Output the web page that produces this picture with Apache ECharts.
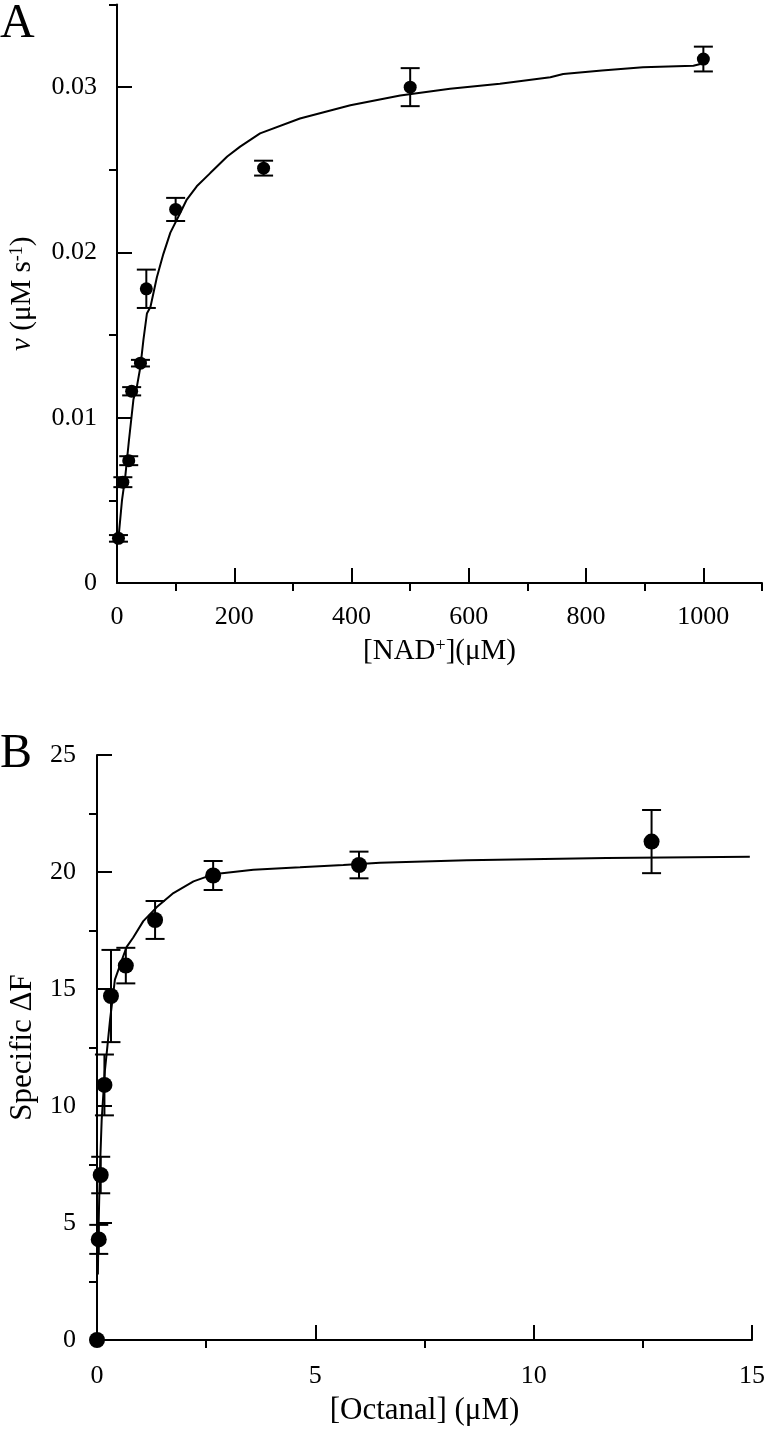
<!DOCTYPE html>
<html>
<head>
<meta charset="utf-8">
<script src="https://cdn.jsdelivr.net/npm/echarts@6/dist/echarts.min.js"></script>
<style>
html,body{margin:0;padding:0;background:#fff;}
#chart{width:765px;height:1431px;}
</style>
</head>
<body>
<div id="chart"></div>
<script>
// ---------- Panel A data ----------
const nadConc = [2.5, 10, 20, 25, 40, 50, 100, 250, 500, 1000];
const nadRate = [0.0027, 0.0061, 0.0074, 0.0116, 0.0133, 0.0178, 0.0226, 0.0251, 0.0300, 0.0317];
const nadErr  = [0.0002, 0.0003, 0.00027, 0.00025, 0.0002, 0.00116, 0.0007, 0.00045, 0.00115, 0.00075];
const nadFitX = [3, 8.5, 14, 20, 28, 34, 40, 45, 51, 57, 68, 79, 91, 108, 119, 136, 159, 188, 210, 244, 312, 398, 483, 568, 653, 739, 761, 827, 897, 983, 995];
const nadFitY = [0.0029, 0.0050, 0.0064, 0.0085, 0.0111, 0.0119, 0.0131, 0.0147, 0.0163, 0.0167, 0.0185, 0.0199, 0.0212, 0.0224, 0.0232, 0.0240, 0.0248, 0.0258, 0.0264, 0.0272, 0.0281, 0.0289, 0.0295, 0.0299, 0.0302, 0.0306, 0.0308, 0.0310, 0.0312, 0.0313, 0.0314];
const aXMajor = [0, 200, 400, 600, 800, 1000];
const aXMinor = [100, 300, 500, 700, 900, 1100];
const aYLabels = [0, 0.01, 0.02, 0.03];
const aYMajor = [0, 0.01, 0.02, 0.03];
const aYMinor = [0.005, 0.015, 0.025, 0.035];

// ---------- Panel B data ----------
const octConc = [0, 0.04, 0.085, 0.17, 0.32, 0.66, 1.33, 2.66, 6.0, 12.7];
const octDF   = [0, 4.3, 7.05, 10.9, 14.7, 16.0, 17.95, 19.85, 20.3, 21.3];
const octErr  = [0, 0.62, 0.78, 1.3, 1.97, 0.76, 0.81, 0.62, 0.57, 1.35];
const octFitX = [0.02, 0.03, 0.05, 0.075, 0.107, 0.18, 0.23, 0.30, 0.41, 0.60, 0.68, 0.83, 1.06, 1.37, 1.75, 2.21, 2.66, 3.12, 3.58, 4.65, 5.64, 6.48, 8.47, 11.67, 14.95];
const octFitY = [2.8, 4.27, 5.98, 7.69, 9.4, 11.5, 12.4, 13.7, 15.4, 16.4, 16.8, 17.2, 17.9, 18.5, 19.1, 19.6, 19.9, 20.0, 20.1, 20.2, 20.3, 20.4, 20.5, 20.6, 20.65];
const bXMajor = [0, 5, 10, 15];
const bXMinor = [2.5, 7.5, 12.5];
const bYMajor = [0, 5, 10, 15, 20, 25];
const bYMinor = [2.5, 7.5, 12.5, 17.5, 22.5];

const FONT = 'Liberation Serif';
const zip3 = (a, b, c) => a.map((v, i) => [v, b[i], c[i]]);
const zip2 = (a, b) => a.map((v, i) => [v, b[i]]);

const lineStyle = {color: '#000', width: 2};
const labelStyle = {color: '#000', fontFamily: FONT, fontSize: 26};
const TITLE = 29;
const TITLE_B = 31;

function majorAxis(opts) {
  return Object.assign({
    type: 'value',
    axisLine: {show: true, onZero: false, lineStyle: lineStyle},
    axisTick: {show: true, inside: true, length: 15, lineStyle: lineStyle},
    splitLine: {show: false},
    nameTextStyle: {color: '#000', fontFamily: FONT, fontSize: TITLE_B}
  }, opts);
}
function minorAxis(opts, ticks) {
  return Object.assign({
    type: 'value',
    axisLine: {show: false},
    axisTick: {show: true, inside: true, length: 8, lineStyle: lineStyle, customValues: ticks},
    axisLabel: {show: false},
    splitLine: {show: false}
  }, opts);
}

function errRender(capHalf) {
  return function (params, api) {
    const x = api.value(0), y = api.value(1), e = api.value(2);
    if (!e) return null;
    const top = api.coord([x, y + e]);
    const bot = api.coord([x, y - e]);
    const st = {stroke: '#000', lineWidth: 2, fill: null};
    return {
      type: 'group',
      children: [
        {type: 'line', shape: {x1: top[0], y1: top[1], x2: bot[0], y2: bot[1]}, style: st},
        {type: 'line', shape: {x1: top[0] - capHalf, y1: top[1], x2: top[0] + capHalf, y2: top[1]}, style: st},
        {type: 'line', shape: {x1: bot[0] - capHalf, y1: bot[1], x2: bot[0] + capHalf, y2: bot[1]}, style: st}
      ]
    };
  };
}

const chart = echarts.init(document.getElementById('chart'), null, {renderer: 'canvas'});
chart.setOption({
  backgroundColor: '#fff',
  animation: false,
  grid: [
    {left: 117, width: 645, top: 4.5, height: 578.5, containLabel: false, outerBoundsMode: 'none'},
    {left: 97, width: 655, top: 755, height: 585, containLabel: false, outerBoundsMode: 'none'}
  ],
  xAxis: [
    majorAxis({gridIndex: 0, min: 0, max: 1100,
      axisTick: {show: true, inside: true, length: 15, lineStyle: lineStyle, customValues: aXMajor},
      axisLabel: Object.assign({margin: 21, customValues: aXMajor, formatter: v => String(v)}, labelStyle),
      name: '{t|[NAD}{s|+}{t|](μM)}', nameLocation: 'middle', nameGap: 54,
      nameTextStyle: {rich: {t: {fontFamily: FONT, fontSize: TITLE, color: '#000'}, s: {fontFamily: FONT, fontSize: 18, color: '#000', verticalAlign: 'top'}}}
    }),
    minorAxis({gridIndex: 0, min: 0, max: 1100}, aXMinor),
    majorAxis({gridIndex: 1, min: 0, max: 15,
      axisTick: {show: true, inside: true, length: 15, lineStyle: lineStyle, customValues: bXMajor},
      axisLabel: Object.assign({margin: 23, customValues: bXMajor, formatter: v => String(v)}, labelStyle),
      name: '[Octanal] (μM)', nameLocation: 'middle', nameGap: 55
    }),
    minorAxis({gridIndex: 1, min: 0, max: 15}, bXMinor)
  ],
  yAxis: [
    majorAxis({gridIndex: 0, min: 0, max: 0.035,
      axisTick: {show: true, inside: true, length: 15, lineStyle: lineStyle, customValues: aYMajor},
      axisLabel: Object.assign({margin: 20, customValues: aYLabels,
        formatter: v => v === 0 ? '0' : v.toFixed(2)}, labelStyle),
      name: '{i|v}{t| (μM s}{s|-1}{t|)}', nameLocation: 'middle', nameGap: 80, nameRotate: 90,
      nameTextStyle: {rich: {
        i: {fontFamily: FONT, fontSize: TITLE, fontStyle: 'italic', color: '#000'},
        t: {fontFamily: FONT, fontSize: TITLE, color: '#000'},
        s: {fontFamily: FONT, fontSize: 18, color: '#000', verticalAlign: 'top'}}}
    }),
    minorAxis({gridIndex: 0, min: 0, max: 0.035}, aYMinor),
    majorAxis({gridIndex: 1, min: 0, max: 25,
      axisTick: {show: true, inside: true, length: 15, lineStyle: lineStyle, customValues: bYMajor},
      axisLabel: Object.assign({margin: 21, customValues: bYMajor, formatter: v => String(v)}, labelStyle),
      name: 'Specific ΔF', nameLocation: 'middle', nameGap: 59, nameRotate: 90
    }),
    minorAxis({gridIndex: 1, min: 0, max: 25}, bYMinor)
  ],
  graphic: [
    {type: 'text', left: 0, top: 0, style: {text: 'A', fontFamily: FONT, fontSize: 48, fill: '#000'}},
    {type: 'text', left: 0, top: 730, style: {text: 'B', fontFamily: FONT, fontSize: 48, fill: '#000'}}
  ],
  series: [
    {type: 'line', xAxisIndex: 0, yAxisIndex: 0, data: zip2(nadFitX, nadFitY), showSymbol: false,
      lineStyle: {color: '#000', width: 2}, z: 2},
    {type: 'custom', xAxisIndex: 0, yAxisIndex: 0, data: zip3(nadConc, nadRate, nadErr),
      renderItem: errRender(9.5), z: 3},
    {type: 'scatter', xAxisIndex: 0, yAxisIndex: 0, data: zip2(nadConc, nadRate), symbol: 'circle',
      symbolSize: 13, itemStyle: {color: '#000', opacity: 1}, z: 4},
    {type: 'line', xAxisIndex: 2, yAxisIndex: 2, data: zip2(octFitX, octFitY), showSymbol: false,
      lineStyle: {color: '#000', width: 2}, z: 2},
    {type: 'custom', xAxisIndex: 2, yAxisIndex: 2, data: zip3(octConc, octDF, octErr),
      renderItem: errRender(9.5), z: 3},
    {type: 'scatter', xAxisIndex: 2, yAxisIndex: 2, data: zip2(octConc, octDF), symbol: 'circle',
      symbolSize: 16, itemStyle: {color: '#000', opacity: 1}, z: 4, clip: false}
  ]
});
</script>
</body>
</html>
